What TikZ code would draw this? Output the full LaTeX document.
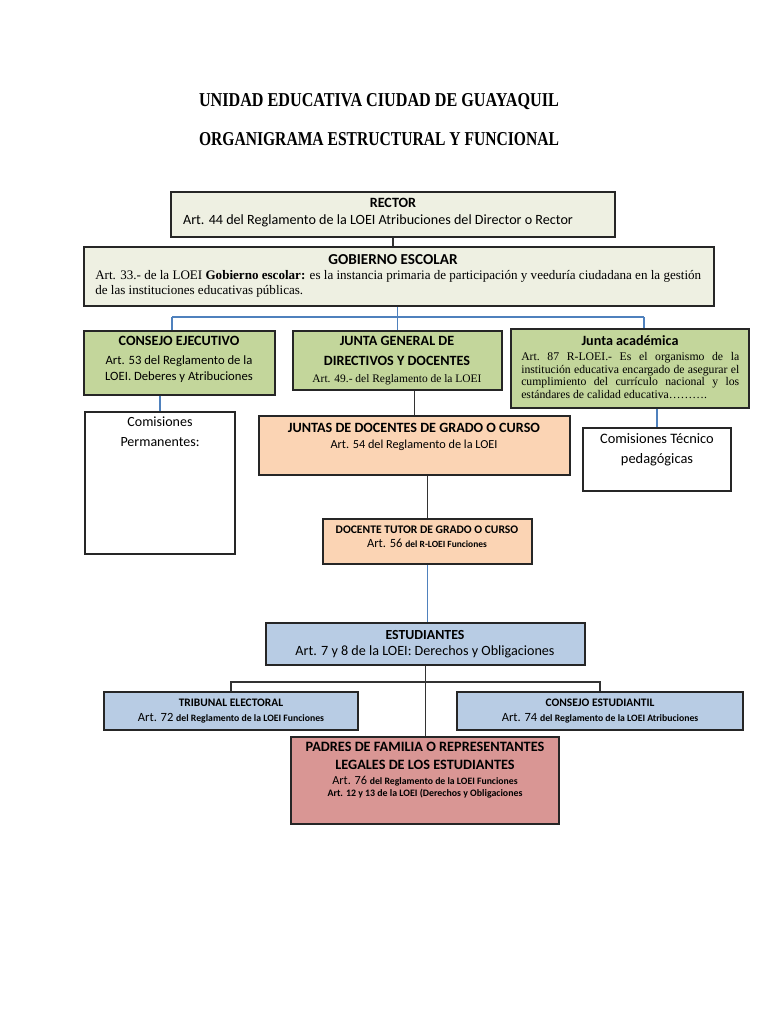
\documentclass[tikz,border=0pt]{standalone}
\usepackage{fontspec}
\usepackage{graphicx}
\setmainfont{Liberation Serif}
\newfontfamily\calib{Carlito}
\usetikzlibrary{fit}
\definecolor{pale}{HTML}{EEF0E2}
\definecolor{grn}{HTML}{C3D69B}
\definecolor{org}{HTML}{FBD4B4}
\definecolor{lblu}{HTML}{B8CCE4}
\definecolor{rosa}{HTML}{D99694}
\definecolor{lnblue}{HTML}{4F81BD}
\newcommand\fs[2]{\fontsize{#1}{#2}\selectfont}
\tikzset{
  box/.style={draw=black!85, line width=1.1pt, inner sep=0pt},
  cn/.style={line width=0.9pt, draw=black!80},
  cb/.style={line width=0.8pt, draw=lnblue},
  tc/.style={anchor=mid, inner sep=0pt, font=\calib},
  tt/.style={anchor=mid, inner sep=0pt},
}
\begin{document}
\begin{tikzpicture}[x=0.75pt, y=-0.75pt]
\fill[white] (0,0) rectangle (768,1024);
\useasboundingbox (0,0) rectangle (768,1024);

% titles
\node[anchor=base, inner sep=0] (t1) at (379,107) {\resizebox{270pt}{9.75pt}{\bfseries UNIDAD EDUCATIVA CIUDAD DE GUAYAQUIL}};
\node[anchor=base, inner sep=0] (t2) at (379,146) {\resizebox{270pt}{9.75pt}{\bfseries ORGANIGRAMA ESTRUCTURAL Y FUNCIONAL}};

% boxes
\node[box, fill=pale, fit={(171,192) (615,237)}] (rector) {};
\node[box, fill=pale, fit={(84,247) (714,306)}] (gob) {};
\node[box, fill=grn, fit={(84,331) (275,395)}] (ce) {};
\node[box, fill=grn, fit={(293,331) (502,390)}] (jg) {};
\node[box, fill=grn, fit={(511,329) (749,408)}] (ja) {};
\node[box, fill=white, fit={(85,412) (235,554)}] (com) {};
\node[box, fill=org, fit={(259,416) (570,475)}] (jd) {};
\node[box, fill=white, fit={(583,428) (731,491)}] (ct) {};
\node[box, fill=org, fit={(323,519) (532,564)}] (dt) {};
\node[box, fill=lblu, fit={(266,623) (585,665)}] (est) {};
\node[box, fill=lblu, fit={(104,692) (358,730)}] (te) {};
\node[box, fill=lblu, fit={(457,692) (743,730)}] (cs) {};
\node[box, fill=rosa, fit={(291,737) (559,824)}] (pad) {};

% connectors
\coordinate (bl) at (172,317);
\coordinate (br) at (644,317);
\draw[cn] (rector.south) -- (rector.south |- gob.north);
\draw[cb] (jg.north |- gob.south) -- (jg.north);
\draw[cb] (bl) -- (br);
\draw[cb] (bl) -- (bl |- ce.north);
\draw[cb] (br) -- (br |- ja.north);
\draw[cb] (com.north |- ce.south) -- (com.north);
\draw[cn] (jd.north |- jg.south) -- (jd.north);
\draw[cb] (ct.north |- ja.south) -- (ct.north);
\draw[cn] (dt.north |- jd.south) -- (dt.north);
\draw[cb] (dt.south) -- (dt.south |- est.north);
\coordinate (hb) at (425,682);
\draw[cn] (te.north) |- (hb) -| (cs.north);
\draw[cn] (est.south) -- (est.south |- pad.north);

% texts
\node[tc, font=\calib\bfseries\fs{10.6}{12}] (rt1) at (393,204) {RECTOR};
\node[tc, font=\calib\fs{10.6}{12}] (rt2) at (378,221) {Art. 44 del Reglamento de la LOEI Atribuciones del Director o Rector};

\node[tc, font=\calib\bfseries\fs{11.4}{13}] (gt1) at (393,261) {GOBIERNO ESCOLAR};
\node[anchor=mid west, inner sep=0pt, font=\fs{9.8}{11}] (gt2) at (95,276) {Art. 33.- de la LOEI \textbf{Gobierno escolar:} es la instancia primaria de participación y veeduría ciudadana en la gestión};
\node[anchor=mid west, inner sep=0pt, font=\fs{9.8}{11}] (gt3) at (95,291) {de las instituciones educativas públicas.};

\node[tc, font=\calib\bfseries\fs{10.6}{12}] (ct1) at (179,342) {CONSEJO EJECUTIVO};
\node[tc, font=\calib\fs{9.5}{11}] (ct2) at (179,361) {Art. 53 del Reglamento de la};
\node[tc, font=\calib\fs{9.5}{11}] (ct3) at (179,377) {LOEI. Deberes y Atribuciones};

\node[tc, font=\calib\bfseries\fs{10.6}{12}] (jt1) at (397,342) {JUNTA GENERAL DE};
\node[tc, font=\calib\bfseries\fs{10.6}{12}] (jt2) at (397,362) {DIRECTIVOS Y DOCENTES};
\node[tt, font=\fs{8.6}{10}] (jt3) at (397,379) {Art. 49.- del Reglamento de la LOEI};

\node[tc, font=\calib\bfseries\fs{10.6}{12}] (at1) at (630,342) {Junta académica};
\node[anchor=north west, inner sep=0pt, align=left, font=\fs{8.8}{9.5}\frenchspacing] (at2) at (521,352)
  {\makebox[163.5pt][s]{Art. 87 R-LOEI.- Es el organismo de la}\\
   \makebox[163.5pt][s]{institución educativa encargado de asegurar el}\\
   \makebox[163.5pt][s]{cumplimiento del currículo nacional y los}\\
   estándares de calidad educativa……….};

\node[tc, font=\calib\fs{10.5}{12}] (mt1) at (160,423) {Comisiones};
\node[tc, font=\calib\fs{10.5}{12}] (mt2) at (160,443) {Permanentes:};

\node[tc, font=\calib\bfseries\fs{10.6}{12}] (dj1) at (414,429) {JUNTAS DE DOCENTES DE GRADO O CURSO};
\node[tc, font=\calib\fs{9.2}{11}] (dj2) at (414,445) {Art. 54 del Reglamento de la LOEI};

\node[tc, font=\calib\fs{10.8}{12}] (tk1) at (657,440) {Comisiones Técnico};
\node[tc, font=\calib\fs{10.8}{12}] (tk2) at (657,460) {pedagógicas};

\node[tc, font=\calib\bfseries\fs{8.7}{10}] (dd1) at (427,530) {DOCENTE TUTOR DE GRADO O CURSO};
\node[tc, font=\calib\fs{9.4}{11}] (dd2) at (427,544) {Art. 56 {\bfseries\fs{7.1}{8}del R-LOEI Funciones}};

\node[tc, font=\calib\bfseries\fs{10.4}{12}] (es1) at (425,636) {ESTUDIANTES};
\node[tc, font=\calib\fs{10.6}{12}] (es2) at (425,652) {Art. 7 y 8 de la LOEI: Derechos y Obligaciones};

\node[tc, font=\calib\bfseries\fs{8.6}{10}] (tb1) at (231,703) {TRIBUNAL ELECTORAL};
\node[tc, font=\calib\fs{9.4}{11}] (tb2) at (231,718) {Art. 72 {\bfseries\fs{7.3}{8}del Reglamento de la LOEI Funciones}};

\node[tc, font=\calib\bfseries\fs{8.6}{10}] (cs1) at (600,703) {CONSEJO ESTUDIANTIL};
\node[tc, font=\calib\fs{9.4}{11}] (cs2) at (600,718) {Art. 74 {\bfseries\fs{7.3}{8}del Reglamento de la LOEI Atribuciones}};

\node[tc, font=\calib\bfseries\fs{10.7}{12}] (pd1) at (425,748) {PADRES DE FAMILIA O REPRESENTANTES};
\node[tc, font=\calib\bfseries\fs{10.7}{12}] (pd2) at (425,766) {LEGALES DE LOS ESTUDIANTES};
\node[tc, font=\calib\fs{9.2}{10}] (pd3) at (425,781) {Art. 76 {\bfseries\fs{7.3}{8}del Reglamento de la LOEI Funciones}};
\node[tc, font=\calib\bfseries\fs{7.4}{8}] (pd4) at (425,793) {Art. 12 y 13 de la LOEI (Derechos y Obligaciones};
\end{tikzpicture}
\end{document}
